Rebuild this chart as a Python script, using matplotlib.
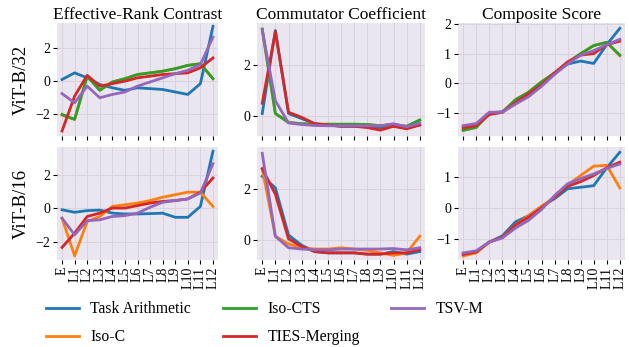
import matplotlib
matplotlib.use("Agg")
import matplotlib.pyplot as plt

plt.rcParams['font.family'] = ['Liberation Serif', 'DejaVu Serif']

layers = ['E'] + ['L%d' % i for i in range(1, 13)]
methods = ['Task Arithmetic', 'Iso-C', 'Iso-CTS', 'TIES-Merging', 'TSV-M']
colors = ['#1f77b4', '#ff7f0e', '#2ca02c', '#d62728', '#9467bd']
metrics = ['Effective-Rank Contrast', 'Commutator Coefficient', 'Composite Score']
models = ['ViT-B/32', 'ViT-B/16']

# ViT-B/32
b32_erc = {
    'Task Arithmetic': [0.1, 0.5, 0.2, -0.2, -0.4, -0.55, -0.4, -0.45, -0.5, -0.65, -0.8, -0.15, 3.3],
    'Iso-C': [-2.05, -2.3, 0.3, -0.55, -0.05, 0.15, 0.4, 0.5, 0.6, 0.75, 0.95, 1.05, 0.15],
    'Iso-CTS': [-2.0, -2.3, 0.3, -0.55, -0.05, 0.15, 0.4, 0.5, 0.6, 0.75, 0.95, 1.05, 0.15],
    'TIES-Merging': [-3.0, -0.9, 0.35, -0.3, -0.15, 0.0, 0.2, 0.3, 0.4, 0.45, 0.5, 0.8, 1.4],
    'TSV-M': [-0.75, -1.3, -0.3, -1.0, -0.8, -0.65, -0.3, -0.05, 0.2, 0.45, 0.65, 1.0, 2.65],
}
b32_comm = {
    'Task Arithmetic': [0.1, 3.35, 0.1, -0.1, -0.3, -0.35, -0.4, -0.4, -0.42, -0.45, -0.4, -0.45, -0.35],
    'Iso-C': [3.4, 0.1, -0.25, -0.3, -0.32, -0.32, -0.32, -0.32, -0.33, -0.38, -0.33, -0.4, -0.17],
    'Iso-CTS': [3.4, 0.1, -0.25, -0.3, -0.32, -0.32, -0.32, -0.32, -0.33, -0.38, -0.33, -0.4, -0.15],
    'TIES-Merging': [0.5, 3.3, 0.15, -0.05, -0.3, -0.35, -0.4, -0.4, -0.45, -0.55, -0.4, -0.5, -0.35],
    'TSV-M': [3.35, 0.6, -0.27, -0.33, -0.37, -0.38, -0.38, -0.38, -0.38, -0.38, -0.3, -0.42, -0.28],
}
b32_comp = {
    'Task Arithmetic': [-1.45, -1.4, -1.0, -0.95, -0.6, -0.35, 0.0, 0.35, 0.65, 0.75, 0.67, 1.3, 1.85],
    'Iso-C': [-1.58, -1.48, -1.0, -0.98, -0.55, -0.3, 0.05, 0.35, 0.7, 1.0, 1.27, 1.38, 0.93],
    'Iso-CTS': [-1.58, -1.48, -1.0, -0.98, -0.55, -0.3, 0.05, 0.35, 0.7, 1.0, 1.27, 1.38, 0.95],
    'TIES-Merging': [-1.5, -1.42, -1.05, -0.97, -0.65, -0.35, -0.05, 0.35, 0.72, 0.95, 1.0, 1.3, 1.42],
    'TSV-M': [-1.42, -1.35, -0.97, -0.97, -0.7, -0.45, -0.1, 0.3, 0.65, 0.95, 1.1, 1.3, 1.48],
}

# ViT-B/16 (no Iso-CTS curve)
b16_erc = {
    'Task Arithmetic': [-0.1, -0.25, -0.15, -0.12, -0.3, -0.35, -0.35, -0.33, -0.3, -0.55, -0.55, 0.1, 3.4],
    'Iso-C': [-0.6, -2.85, -0.8, -0.5, 0.1, 0.2, 0.3, 0.45, 0.65, 0.8, 0.95, 0.95, 0.1],
    'TIES-Merging': [-2.35, -1.5, -0.5, -0.3, 0.0, 0.0, 0.15, 0.3, 0.4, 0.45, 0.55, 0.95, 1.8],
    'TSV-M': [-0.6, -1.6, -0.75, -0.7, -0.5, -0.45, -0.3, 0.05, 0.35, 0.45, 0.55, 0.9, 2.65],
}
b16_comm = {
    'Task Arithmetic': [2.5, 2.05, 0.2, -0.2, -0.45, -0.5, -0.5, -0.5, -0.55, -0.55, -0.45, -0.55, -0.45],
    'Iso-C': [2.8, 0.15, -0.15, -0.3, -0.35, -0.35, -0.3, -0.35, -0.4, -0.5, -0.6, -0.5, 0.15],
    'TIES-Merging': [2.8, 1.8, 0.05, -0.25, -0.45, -0.5, -0.5, -0.5, -0.55, -0.55, -0.5, -0.5, -0.38],
    'TSV-M': [3.4, 0.15, -0.3, -0.35, -0.38, -0.38, -0.35, -0.35, -0.35, -0.35, -0.33, -0.38, -0.3],
}
b16_comp = {
    'Task Arithmetic': [-1.5, -1.42, -1.1, -0.9, -0.45, -0.25, 0.05, 0.3, 0.62, 0.67, 0.72, 1.3, 1.8],
    'Iso-C': [-1.55, -1.45, -1.1, -0.95, -0.55, -0.25, 0.05, 0.35, 0.75, 1.05, 1.35, 1.38, 0.65],
    'TIES-Merging': [-1.5, -1.42, -1.1, -0.95, -0.55, -0.3, 0.0, 0.35, 0.7, 0.85, 1.05, 1.3, 1.48],
    'TSV-M': [-1.45, -1.38, -1.1, -0.97, -0.65, -0.4, -0.05, 0.4, 0.78, 0.95, 1.1, 1.28, 1.42],
}

data = [[b32_erc, b32_comm, b32_comp], [b16_erc, b16_comm, b16_comp]]
ylims = [[(-3.3, 3.5), (-0.78, 3.64), (-1.77, 2.03)],
         [(-3.1, 3.65), (-0.78, 3.65), (-1.68, 1.97)]]

fig = plt.figure(figsize=(6.29, 3.47), dpi=100)
lefts = [57, 257, 458]
widths = [161, 168, 167]
tops = [23, 147]
height = 113
W, H = 629, 347

handles = {}
for r in range(2):
    for c in range(3):
        ax = fig.add_axes([lefts[c] / W, 1 - (tops[r] + height) / H, widths[c] / W, height / H])
        ax.set_facecolor('#EAE6EF')
        for s in ax.spines.values():
            s.set_visible(False)
        ax.grid(True, color='#D8D3DD', linewidth=0.8)
        ax.set_axisbelow(True)
        x = list(range(len(layers)))
        for m, col in zip(methods, colors):
            if m in data[r][c]:
                ln, = ax.plot(x, data[r][c][m], color=col, linewidth=2, label=m)
                handles[m] = ln
        ax.set_xlim(-0.4, 12.4)
        ax.set_ylim(*ylims[r][c])
        ax.set_xticks(x)
        if r == 1:
            ax.set_xticklabels(layers, rotation=90, fontsize=9.5)
        else:
            ax.set_xticklabels([])
            ax.set_title(metrics[c], fontsize=12.5, pad=3)
        ax.tick_params(axis='both', length=3, width=0.8, labelsize=10, pad=2)
        if c == 0:
            ax.set_ylabel(models[r], fontsize=13.5)
        if c == 2:
            ax.set_yticks([-1, 0, 1, 2] if r == 0 else [-1, 0, 1])
        else:
            ax.set_yticks([-2, 0, 2] if c == 0 else [0, 2])

fig.legend([handles[m] for m in methods], methods, loc='lower left', ncol=3,
           bbox_to_anchor=(0.05, -0.035), frameon=False, fontsize=11.3,
           columnspacing=2.0, handlelength=2.1, handletextpad=0.76, labelspacing=0.75)

fig.savefig('out.png', dpi=100)
